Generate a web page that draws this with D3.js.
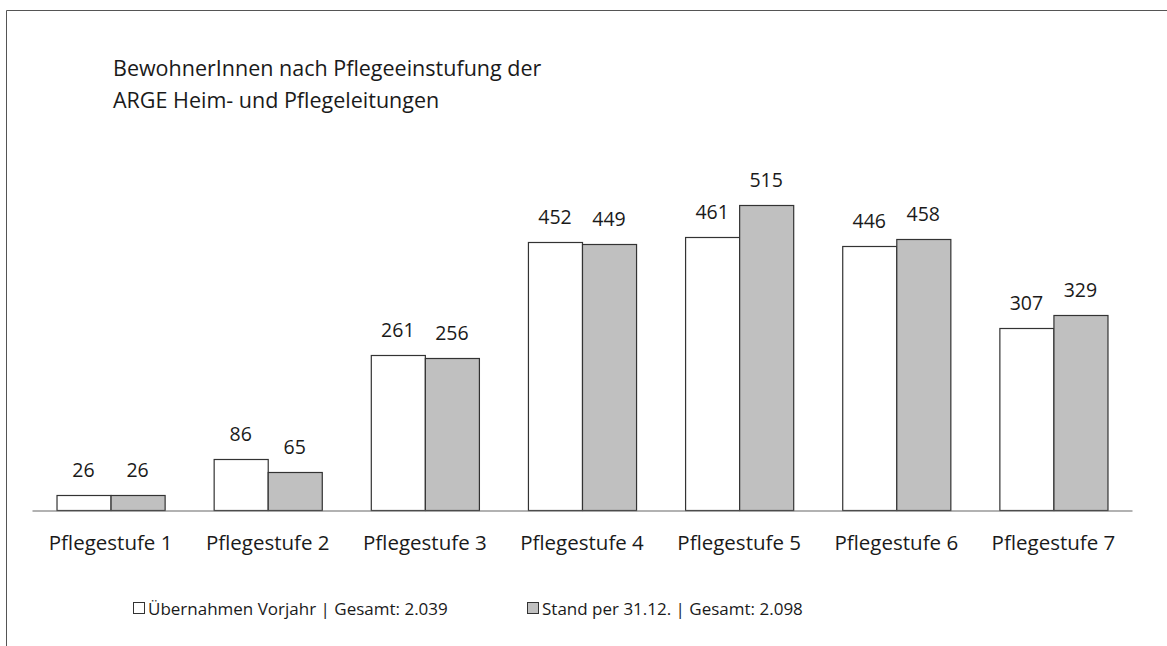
<!DOCTYPE html>
<html>
<head>
<meta charset="utf-8">
<script src="https://cdn.jsdelivr.net/npm/d3@7"></script>
<style>
  html, body { margin: 0; padding: 0; background: #fff; }
  svg { display: block; }
  text { font-family: "Open Sans", "DejaVu Sans", sans-serif; fill: #1a1a1a; }
</style>
</head>
<body>
<svg id="chart" width="1167" height="646"></svg>
<script>
const titleLines = ["BewohnerInnen nach Pflegeeinstufung der", "ARGE Heim- und Pflegeleitungen"];
const categories = ["Pflegestufe 1", "Pflegestufe 2", "Pflegestufe 3", "Pflegestufe 4", "Pflegestufe 5", "Pflegestufe 6", "Pflegestufe 7"];
const seriesNames = ["Übernahmen Vorjahr | Gesamt: 2.039", "Stand per 31.12. | Gesamt: 2.098"];
const vorjahr = [26, 86, 261, 452, 461, 446, 307];
const stand = [26, 65, 256, 449, 515, 458, 329];
const seriesColors = ["#ffffff", "#c0c0c0"];

const svg = d3.select("#chart");

// frame
svg.append("path")
  .attr("d", "M6.5,646 L6.5,10.5 L1167,10.5")
  .attr("fill", "none").attr("stroke", "#555").attr("stroke-width", 1);

// title
svg.append("g").selectAll("text").data(titleLines).join("text")
  .attr("x", 113).attr("y", (d, i) => 76 + i * 32)
  .attr("font-size", 21.5).text(d => d);

const x0 = d3.scaleBand().domain(categories).range([32, 1132]).paddingInner(0.312).paddingOuter(0.156);
const x1 = d3.scaleBand().domain([0, 1]).range([0, x0.bandwidth()]);
const y = d3.scaleLinear().domain([0, 515]).range([510, 205]);

const data = categories.map((c, i) => ({ cat: c, vals: [vorjahr[i], stand[i]] }));

const groups = svg.append("g").selectAll("g").data(data).join("g")
  .attr("transform", d => `translate(${x0(d.cat)},0)`);

groups.selectAll("rect").data(d => d.vals.map((v, k) => ({ v, k }))).join("rect")
  .attr("x", d => x1(d.k) + 0.5)
  .attr("y", d => Math.round(y(d.v)) + 0.5)
  .attr("width", x1.bandwidth())
  .attr("height", d => y(0) - Math.round(y(d.v)))
  .attr("fill", d => seriesColors[d.k])
  .attr("stroke", "#333").attr("stroke-width", 1.2);

groups.selectAll("text.val").data(d => d.vals.map((v, k) => ({ v, k }))).join("text")
  .attr("class", "val")
  .attr("x", d => x1(d.k) + x1.bandwidth() / 2)
  .attr("y", d => y(d.v) - 18)
  .attr("text-anchor", "middle")
  .attr("font-size", 19.5)
  .text(d => d.v);

// axis
const xAxis = d3.axisBottom(x0).tickSize(0).tickPadding(25);
const ax = svg.append("g").attr("transform", "translate(0,510.5)").call(xAxis);
ax.select(".domain").attr("stroke", "#666").attr("stroke-width", 1.2);
ax.selectAll("text").attr("font-size", 20.5).attr("fill", "#1a1a1a")
  .attr("font-family", "Open Sans, DejaVu Sans, sans-serif");

// legend
const legendX = [133, 527];
const lg = svg.append("g").selectAll("g").data(seriesNames).join("g")
  .attr("transform", (d, i) => `translate(${legendX[i]},602)`);
lg.append("rect").attr("x", 0.5).attr("y", 0.5).attr("width", 11).attr("height", 11)
  .attr("fill", (d, i) => seriesColors[i]).attr("stroke", "#333");
lg.append("text").attr("x", 15).attr("y", 12.5).attr("font-size", 17).text(d => d);
</script>
</body>
</html>
